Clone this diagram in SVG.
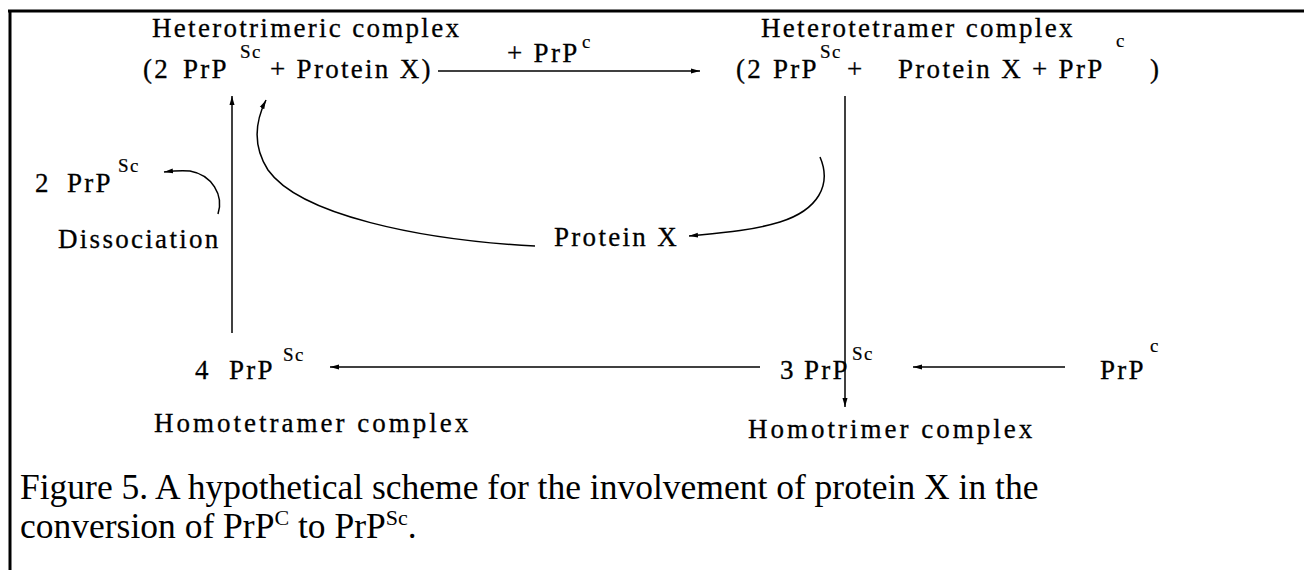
<svg xmlns="http://www.w3.org/2000/svg" width="1304" height="570" viewBox="0 0 1304 570">
<style>
  .t { font-family: "Liberation Serif", "Times New Roman", serif; font-size: 27px; letter-spacing: 2.3px; fill: #000; stroke: #000; stroke-width: 0.3; }
  .w { letter-spacing: 3px; }
  .s { font-family: "Liberation Serif", "Times New Roman", serif; font-size: 19px; letter-spacing: 1.5px; fill: #000; stroke: #000; stroke-width: 0.2; }
  .cap { font-family: "Liberation Serif", "Times New Roman", serif; font-size: 35.5px; fill: #000; }
  .capsup { font-size: 22px; }
  .ln { fill: none; stroke: #000; stroke-width: 1.5; }
  .frame { fill: none; stroke: #000; stroke-width: 3; }
</style>
<defs>
  <marker id="ah" markerUnits="userSpaceOnUse" markerWidth="10" markerHeight="6" refX="9" refY="3" orient="auto">
    <path d="M0,0.5 L9,3 L0,5.5 z" fill="#000"/>
  </marker>
</defs>
<rect x="0" y="0" width="1304" height="570" fill="#fff"/>
<g id="frame">
  <line class="frame" x1="8" y1="11" x2="1304" y2="11"/>
  <line class="frame" x1="10" y1="10" x2="10" y2="570"/>
</g>
<g id="connectors">
  <line class="ln" x1="438" y1="71" x2="700" y2="71" marker-end="url(#ah)"/>
  <line class="ln" x1="845" y1="96" x2="845" y2="407" marker-end="url(#ah)"/>
  <line class="ln" x1="232" y1="333" x2="232" y2="96" marker-end="url(#ah)"/>
  <line class="ln" x1="760" y1="367" x2="330" y2="367" marker-end="url(#ah)"/>
  <line class="ln" x1="1065" y1="367" x2="913" y2="367" marker-end="url(#ah)"/>
  <path class="ln" d="M535,246 C420,240 300,215 268,170 C252,145 256,120 266,100" marker-end="url(#ah)"/>
  <path class="ln" d="M820,157 C832,185 818,210 780,222 C750,231 720,233 689,236" marker-end="url(#ah)"/>
  <path class="ln" d="M218,214 C224,195 212,175 190,171 C180,170 172,171 164,172" marker-end="url(#ah)"/>
</g>
<g id="heterotrimeric">
  <text class="t" x="152" y="37">Heterotrimeric complex</text>
  <text class="t" x="143" y="78">(2</text>
  <text class="t" x="183" y="78">PrP</text>
  <text class="s" x="240" y="58">Sc</text>
  <text class="t" x="270" y="78">+ Protein X)</text>
</g>
<g id="label-prpc-top">
  <text class="t" x="507" y="62">+ PrP</text>
  <text class="s" x="582" y="48">c</text>
</g>
<g id="heterotetramer">
  <text class="t" x="761" y="37">Heterotetramer complex</text>
  <text class="t" x="736" y="78">(2</text>
  <text class="t" x="773" y="78">PrP</text>
  <text class="s" x="820" y="58">Sc</text>
  <text class="t" x="847" y="78">+</text>
  <text class="t" x="898" y="78">Protein X + PrP</text>
  <text class="s" x="1116" y="47">c</text>
  <text class="t" x="1150" y="78">)</text>
</g>
<g id="dissociated">
  <text class="t" x="35" y="192">2</text>
  <text class="t" x="67" y="192">PrP</text>
  <text class="s" x="118" y="172">Sc</text>
</g>
<g id="dissociation-label">
  <text class="t" x="58" y="248">Dissociation</text>
</g>
<g id="protein-x">
  <text class="t" x="554" y="246">Protein X</text>
</g>
<g id="homotetramer">
  <text class="t" x="195" y="379">4</text>
  <text class="t" x="229" y="379">PrP</text>
  <text class="s" x="283" y="361">Sc</text>
  <text class="t w" x="154" y="432">Homotetramer complex</text>
</g>
<g id="homotrimer">
  <text class="t" x="780" y="379">3</text>
  <text class="t" x="804" y="379">PrP</text>
  <text class="s" x="852" y="360">Sc</text>
  <text class="t w" x="748" y="438">Homotrimer complex</text>
</g>
<g id="prpc">
  <text class="t" x="1100" y="379">PrP</text>
  <text class="s" x="1150" y="352">c</text>
</g>
<g id="caption">
  <text class="cap" x="20" y="499">Figure 5. A hypothetical scheme for the involvement of protein X in the</text>
  <text class="cap" x="20" y="538">conversion of PrP<tspan class="capsup" dy="-13">C</tspan><tspan dy="13"> to PrP</tspan><tspan class="capsup" dy="-13">Sc</tspan><tspan dy="13">.</tspan></text>
</g>
</svg>
